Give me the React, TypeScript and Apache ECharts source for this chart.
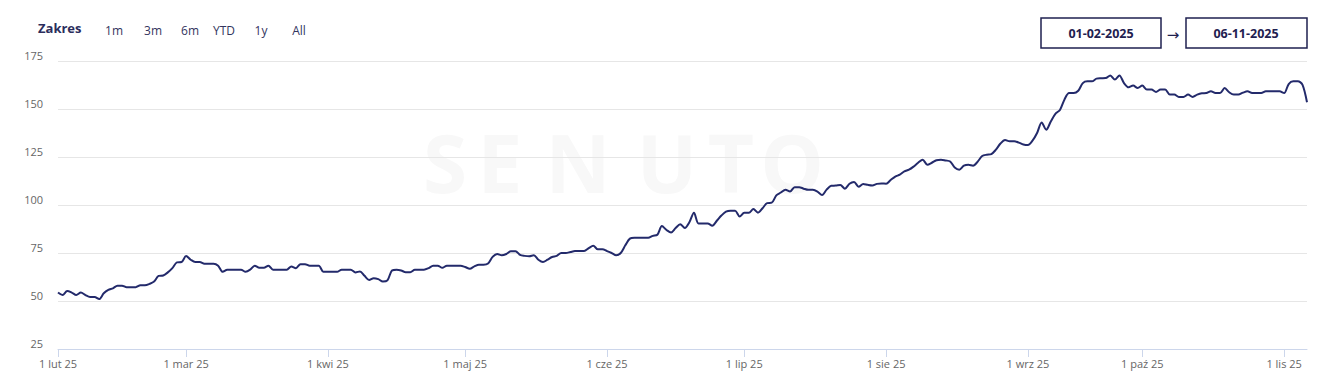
import React, { useEffect, useRef } from "react";
import * as echarts from "echarts";

// ---- data (daily values per month) ----
const FEB = [54.4, 53.1, 55.2, 54.4, 53.1, 54.4, 53.1, 52.1, 52.1, 51.0, 54, 55.8, 56.6, 58, 58, 57.2, 57.2, 57.2, 58.2, 58.2, 58.9, 60.1, 63.1, 63.3, 64.9, 67.1, 70.1, 70.3];
const MAR = [73.4, 71.5, 70.3, 70.3, 69.4, 69.4, 69.4, 68.4, 65.2, 66.3, 66.3, 66.3, 66.3, 65.2, 66.3, 68.4, 67.3, 67.3, 68.4, 66.3, 66.3, 66.3, 66.3, 68, 67.1, 69.2, 69.2, 68.4, 68.4, 68.4, 65.2];
const APR = [65.2, 65.2, 65.2, 66.3, 66.3, 66.3, 64.9, 65.4, 63.1, 61, 61.9, 61.4, 60.1, 60.7, 65.9, 66.3, 65.9, 65, 65, 66.3, 66.3, 66.3, 67.1, 68.4, 68.4, 67.3, 68.4, 68.4, 68.4, 68.4];
const MAY = [67.7, 66.8, 68, 68.9, 68.9, 69.5, 73, 74.5, 73.8, 74.5, 75.9, 75.9, 74, 73.5, 73.3, 73.8, 71.5, 70.3, 71.5, 72.9, 73.5, 75, 75, 75.5, 76, 76, 76, 77.5, 78.8, 76.9, 76.9];
const JUN = [76, 75, 73.8, 75, 79, 82.5, 82.9, 82.9, 82.9, 82.9, 83.9, 84.5, 89, 87, 85.7, 88, 90, 88, 91, 96, 90.4, 90.4, 90.4, 89.2, 91.8, 94.5, 96.5, 97, 97, 94];
const JUL = [96, 96, 97.9, 96, 98.3, 101, 101.2, 105, 106.5, 107.9, 107, 109.3, 109.3, 108.5, 107.9, 107.9, 107, 105.2, 108, 110, 110.1, 110.4, 108.5, 111.1, 112, 109.5, 111, 110.5, 110.2, 111, 111.2];
const AUG = [111.1, 113, 114.8, 115.8, 117.5, 118.4, 120, 122, 123.6, 121, 122, 123.3, 123.6, 123.2, 122.7, 119.5, 118.4, 120.5, 121, 120.5, 122.5, 125.5, 126.2, 126.5, 128.8, 132, 133.8, 133.2, 133.2, 132.5, 131.5];
const SEP = [131.2, 133.5, 137.5, 143, 139.2, 143.5, 147.5, 149.5, 155, 158.3, 158.3, 159.5, 163.5, 164.4, 164.4, 165.8, 166, 166.1, 167.5, 165.3, 167.5, 163.5, 161.3, 162.2, 160.9];
const OCT = [162.2, 160.1, 160.1, 158.9, 160.1, 160.1, 157.5, 157.5, 156.3, 156.3, 157.5, 156.3, 157.5, 158.2, 158.3, 159.2, 158.3, 158.3, 160.9, 158.7, 157.5, 157.5, 158.5, 159.2, 158.3, 158.3, 158.3, 159.2, 159.2, 159.2, 159.2];
const NOV = [158.3, 163, 164.4, 164.4, 162.7, 153.5];

const START_DATE = "2025-02-01";
const END_DATE = "2025-11-06";
const MISSING_DAYS = ["2025-09-26", "2025-09-27", "2025-09-28", "2025-09-29", "2025-09-30"];
const MONTHS_PL = ["sty", "lut", "mar", "kwi", "maj", "cze", "lip", "sie", "wrz", "paź", "lis", "gru"];
const Y_MIN = 25;
const Y_MAX = 175;
const Y_STEP = 25;
const RANGE_BUTTONS = ["1m", "3m", "6m", "YTD", "1y", "All"];
const RANGE_LABEL = "Zakres";
const DATE_FROM = "01-02-2025";
const DATE_TO = "06-11-2025";
const WATERMARK = "SENUTO";

function buildCategories(): string[] {
  const out: string[] = [];
  const d = new Date(START_DATE + "T00:00:00Z");
  const end = new Date(END_DATE + "T00:00:00Z");
  while (d.getTime() <= end.getTime()) {
    const s = d.toISOString().slice(0, 10);
    if (!MISSING_DAYS.includes(s)) out.push(s);
    d.setUTCDate(d.getUTCDate() + 1);
  }
  return out;
}

const CATEGORIES = buildCategories();
const VALUES = [...FEB, ...MAR, ...APR, ...MAY, ...JUN, ...JUL, ...AUG, ...SEP, ...OCT, ...NOV];

const isFirst = (_i: number, v: string) => v.slice(8, 10) === "01";
const fmt = (v: string) => {
  const m = parseInt(v.slice(5, 7), 10) - 1;
  const day = parseInt(v.slice(8, 10), 10);
  return `${day} ${MONTHS_PL[m]} ${v.slice(2, 4)}`;
};

const FONT = "'Open Sans', sans-serif";
const NAVY = "#1f2150";

export default function App() {
  const ref = useRef<HTMLDivElement>(null);
  useEffect(() => {
    if (!ref.current) return;
    const chart = echarts.init(ref.current, null, { renderer: "svg" });
    const btnX = [114, 153, 190, 224, 261, 299];
    const wmX = [445, 500, 578, 667, 731, 792];
    const graphic: any[] = [
      ...WATERMARK.split("").map((ch, i) => ({
        type: "text",
        x: wmX[i],
        y: 161,
        z: -10,
        silent: true,
        style: {
          text: ch,
          fill: "#f8f8f8",
          font: `bold 80px ${FONT}`,
          textAlign: "center",
          textVerticalAlign: "middle",
        },
      })),
      {
        type: "text",
        x: 38,
        y: 28,
        style: { text: RANGE_LABEL, fill: "#2b2d5c", font: `bold 13px ${FONT}`, textAlign: "left", textVerticalAlign: "middle" },
      },
      ...RANGE_BUTTONS.map((b, i) => ({
        type: "text",
        x: btnX[i],
        y: 30,
        style: { text: b, fill: "#33355e", font: `12px ${FONT}`, textAlign: "center", textVerticalAlign: "middle" },
      })),
      {
        type: "rect",
        shape: { x: 1041, y: 18, width: 120, height: 30 },
        style: { fill: "#fff", stroke: NAVY, lineWidth: 1.5 },
      },
      {
        type: "text",
        x: 1101,
        y: 33,
        style: { text: DATE_FROM, fill: NAVY, font: `bold 12.5px ${FONT}`, textAlign: "center", textVerticalAlign: "middle" },
      },
      {
        type: "text",
        x: 1173,
        y: 35,
        style: { text: "→", fill: NAVY, font: `15px 'DejaVu Sans', sans-serif`, textAlign: "center", textVerticalAlign: "middle" },
      },
      {
        type: "rect",
        shape: { x: 1186, y: 18, width: 121, height: 30 },
        style: { fill: "#fff", stroke: NAVY, lineWidth: 1.5 },
      },
      {
        type: "text",
        x: 1246,
        y: 33,
        style: { text: DATE_TO, fill: NAVY, font: `bold 12.5px ${FONT}`, textAlign: "center", textVerticalAlign: "middle" },
      },
    ];

    chart.setOption({
      animation: false,
      textStyle: { fontFamily: FONT },
      grid: { left: 58, right: 28, top: 61, bottom: 32, containLabel: false },
      graphic,
      xAxis: {
        type: "category",
        boundaryGap: false,
        data: CATEGORIES,
        axisLine: { lineStyle: { color: "#ccd6eb", width: 1 } },
        axisTick: { interval: isFirst, length: 8, lineStyle: { color: "#ccd6eb" } },
        axisLabel: { interval: isFirst, formatter: fmt, color: "#666", fontSize: 11, margin: 9 },
        splitLine: { show: false },
      },
      yAxis: {
        type: "value",
        min: Y_MIN,
        max: Y_MAX,
        interval: Y_STEP,
        axisLine: { show: false },
        axisTick: { show: false },
        axisLabel: { color: "#666", fontSize: 11, margin: 15, verticalAlign: "bottom" },
        splitLine: { lineStyle: { color: "#e6e6e6", width: 1 } },
      },
      series: [
        {
          type: "line",
          data: VALUES,
          smooth: 0.3,
          showSymbol: false,
          lineStyle: { color: "#232a6b", width: 2 },
          z: 5,
        },
      ],
    });
    return () => chart.dispose();
  }, []);
  return (
    <div
      ref={ref}
      style={{ position: "fixed", left: 0, top: 0, width: 1335, height: 381, background: "#fff" }}
    />
  );
}
